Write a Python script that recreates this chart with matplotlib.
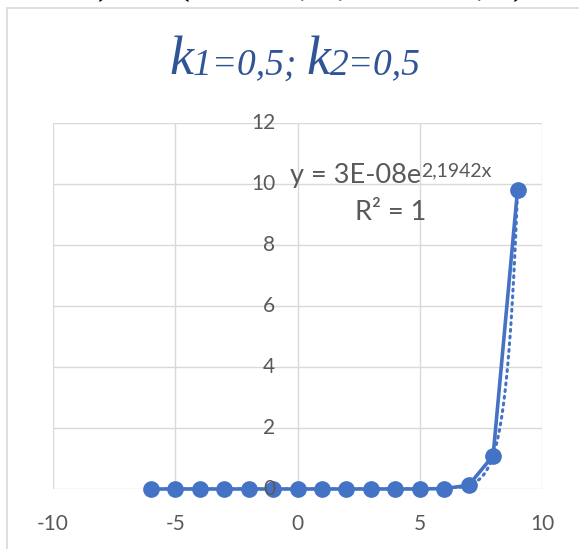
import numpy as np
import matplotlib
matplotlib.use("Agg")
import matplotlib.pyplot as plt
from matplotlib.lines import Line2D
from matplotlib.offsetbox import TextArea, HPacker, AnnotationBbox

# values
x_vals = [-6, -5, -4, -3, -2, -1, 0, 1, 2, 3, 4, 5, 6, 7, 8, 9]
y_vals = [4.98e-14, 4.47e-13, 4.01e-12, 3.6e-11, 3.23e-10, 2.898e-9, 2.6e-8,
          2.334e-7, 2.094e-6, 1.879e-5, 1.686e-4, 0.001513, 0.01358, 0.1218,
          1.093, 9.81]
x_ticks = [-10, -5, 0, 5, 10]
y_ticks = [0, 2, 4, 6, 8, 10, 12]
title_parts = [("k", 39), ("1=0,5; ", 27), ("k", 39), ("2=0,5", 27)]
eq_main = "y = 3E-08e"
eq_sup = "2,1942x"
r2_text = "R² = 1"
top_chars = [(")", 105), ("t", 148), ("(", 182), ("1", 223), (",", 305),
             (",", 343), ("2", 400), (",", 482), (")", 520)]

W, H = 579, 549
blue = "#4472C4"
grid_c = "#D9D9D9"
txt_c = "#595959"

fig = plt.figure(figsize=(W / 100, H / 100), dpi=100)
ax = fig.add_axes([53 / W, 1 - 489 / H, (542 - 53) / W, (489 - 123) / H])

# exponential trendline fitted on the data
b, lna = np.polyfit(x_vals, np.log(y_vals), 1)
xt = np.linspace(min(x_vals), max(x_vals), 300)
ax.plot(xt, np.exp(lna) * np.exp(b * xt), color=blue, lw=2.2, ls=(0, (0.6, 1.6)),
        dash_capstyle="round", zorder=3)

ax.plot(x_vals, y_vals, color=blue, lw=2.6, marker="o", ms=11, zorder=4,
        clip_on=False)

ax.set_xlim(-10, 10)
ax.set_ylim(0, 12)
ax.set_xticks(x_ticks)
ax.set_yticks(y_ticks)
ax.grid(True, color=grid_c, lw=1.0)
ax.set_axisbelow(True)
for s in ax.spines.values():
    s.set_visible(False)
ax.tick_params(length=0)
ax.tick_params(axis="x", pad=18, labelsize=15, labelcolor=txt_c)
ax.set_xticklabels([str(t) for t in x_ticks], family="Lato")
ax.set_yticklabels([])
for v in y_ticks:
    ax.annotate(str(v), xy=(0, v), xytext=(-16, 0), textcoords="offset points",
                ha="right", va="center", fontsize=15, color=txt_c,
                family="Lato", zorder=6, annotation_clip=False)

# trendline equation
eq_box = HPacker(children=[
    TextArea(eq_main, textprops=dict(fontsize=19.5, color=txt_c, family="Lato")),
    TextArea(eq_sup, textprops=dict(fontsize=14, color=txt_c, family="Lato")),
], align="top", pad=0, sep=0)
fig.add_artist(AnnotationBbox(eq_box, (391 / W, 1 - 175 / H), xycoords="figure fraction",
                              frameon=False, box_alignment=(0.5, 0.5), zorder=7))
fig.text(391 / W, 1 - 212 / H, r2_text, ha="center", va="center", fontsize=19.5,
         color=txt_c, family="Lato", zorder=7)

# chart title with larger k
title_box = HPacker(children=[
    TextArea(t, textprops=dict(fontsize=s, color="#2F5597", style="italic",
                               family="Liberation Serif"))
    for t, s in title_parts
], align="baseline", pad=0, sep=0)
fig.add_artist(AnnotationBbox(title_box, (295 / W, 1 - 61 / H), xycoords="figure fraction",
                              frameon=False, box_alignment=(0.5, 0.5)))

# chart border
fig.add_artist(Line2D([7.5 / W, 7.5 / W], [0, 1 - 7.5 / H], transform=fig.transFigure,
                      color=grid_c, lw=1.2))
fig.add_artist(Line2D([7.5 / W, 1], [1 - 7.5 / H, 1 - 7.5 / H], transform=fig.transFigure,
                      color=grid_c, lw=1.2))

# cut-off formula from the page above, only its lower edge shows
for ch, px in top_chars:
    fig.text(px / W, 1 + 7 / H, ch, ha="center", va="baseline", fontsize=30,
             family="Liberation Serif", style="italic" if ch == "t" else "normal",
             color="black")

fig.savefig("out.png", dpi=100)
